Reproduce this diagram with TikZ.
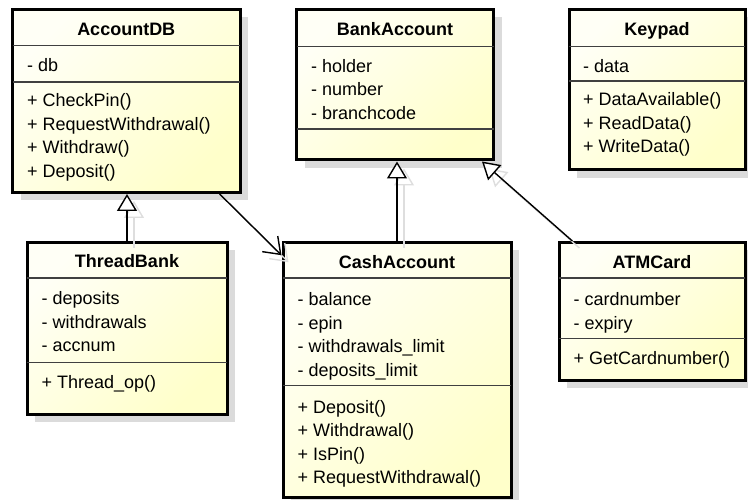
\documentclass[tikz,border=0pt]{standalone}
\usepackage{fontspec}
\setmainfont{Liberation Sans}
\usetikzlibrary{arrows.meta, shadows}

\begin{document}
\begin{tikzpicture}[x = 1pt, y = -1pt,
    classbox/.style = {draw = black, line width = 3pt,
        top color = {rgb,255:red,255;green,255;blue,246},
        bottom color = {rgb,255:red,255;green,255;blue,202}, shading angle = 45,
        drop shadow = {shadow xshift = 8pt, shadow yshift = -8pt, fill = black!14, opacity = 1}},
    classname/.style = {anchor = base, inner sep = 0pt, font = \fontsize{18}{22}\selectfont\bfseries},
    member/.style = {anchor = base west, inner sep = 0pt, font = \fontsize{18}{22}\selectfont},
    divider/.style = {draw = black!75, line width = 1.2pt, shorten < = 1.5pt, shorten > = 1.5pt},
    generalization/.style = {-{Triangle[length = 17pt, width = 20pt, fill = white]}, line width = 1.4pt},
    association/.style = {-{Straight Barb[length = 15pt, width = 22pt]}, line width = 1.4pt},
    edgeshadow/.style = {draw = black!13, transform canvas = {shift = {(7pt, -7pt)}}}]

    \useasboundingbox (0, 0) rectangle (748, 500);

% Classes
    \node[classbox, minimum width = 227.5pt, minimum height = 183pt] (accountdb) at (126.25, 101) {};
    \node[classbox, minimum width = 197pt, minimum height = 150.5pt] (bankaccount) at (395, 84.75) {};
    \node[classbox, minimum width = 176pt, minimum height = 160.5pt] (keypad) at (657, 89.75) {};
    \node[classbox, minimum width = 200pt, minimum height = 171.5pt] (threadbank) at (127, 328.25) {};
    \node[classbox, minimum width = 228pt, minimum height = 254.8pt] (cashaccount) at (397, 369.9) {};
    \node[classbox, minimum width = 186pt, minimum height = 137.5pt] (atmcard) at (652, 311.25) {};

% Compartments
    \draw[divider] (accountdb.west |- 0, 45.5) -- (accountdb.east |- 0, 45.5);
    \draw[divider] (accountdb.west |- 0, 82) -- (accountdb.east |- 0, 82);
    \draw[divider] (bankaccount.west |- 0, 46.5) -- (bankaccount.east |- 0, 46.5);
    \draw[divider] (bankaccount.west |- 0, 129) -- (bankaccount.east |- 0, 129);
    \draw[divider] (keypad.west |- 0, 46.5) -- (keypad.east |- 0, 46.5);
    \draw[divider] (keypad.west |- 0, 81) -- (keypad.east |- 0, 81);
    \draw[divider] (threadbank.west |- 0, 278) -- (threadbank.east |- 0, 278);
    \draw[divider] (threadbank.west |- 0, 362.7) -- (threadbank.east |- 0, 362.7);
    \draw[divider] (cashaccount.west |- 0, 278) -- (cashaccount.east |- 0, 278);
    \draw[divider] (cashaccount.west |- 0, 385.7) -- (cashaccount.east |- 0, 385.7);
    \draw[divider] (atmcard.west |- 0, 278) -- (atmcard.east |- 0, 278);
    \draw[divider] (atmcard.west |- 0, 338.3) -- (atmcard.east |- 0, 338.3);

% Class names
    \node[classname] (accountdb-name) at (126.25, 36) {AccountDB};
    \node[classname] (bankaccount-name) at (395, 36) {BankAccount};
    \node[classname] (keypad-name) at (657, 36) {Keypad};
    \node[classname] (threadbank-name) at (127, 268) {ThreadBank};
    \node[classname] (cashaccount-name) at (397, 269) {CashAccount};
    \node[classname] (atmcard-name) at (652, 269) {ATMCard};

% Members
    \node[member] (accountdb-a1) at (27, 72) {- db};
    \node[member] (accountdb-m1) at (27, 107) {+ CheckPin()};
    \node[member] (accountdb-m2) at (27, 130.5) {+ RequestWithdrawal()};
    \node[member] (accountdb-m3) at (27, 154) {+ Withdraw()};
    \node[member] (accountdb-m4) at (27, 177.5) {+ Deposit()};

    \node[member] (bankaccount-a1) at (311, 72.5) {- holder};
    \node[member] (bankaccount-a2) at (311, 96) {- number};
    \node[member] (bankaccount-a3) at (311, 119.5) {- branchcode};

    \node[member] (keypad-a1) at (583, 72.5) {- data};
    \node[member] (keypad-m1) at (583, 106) {+ DataAvailable()};
    \node[member] (keypad-m2) at (583, 129.5) {+ ReadData()};
    \node[member] (keypad-m3) at (583, 153) {+ WriteData()};

    \node[member] (threadbank-a1) at (41.5, 304.5) {- deposits};
    \node[member] (threadbank-a2) at (41.5, 328) {- withdrawals};
    \node[member] (threadbank-a3) at (41.5, 351.5) {- accnum};
    \node[member] (threadbank-m1) at (41.5, 388.5) {+ Thread\_op()};

    \node[member] (cashaccount-a1) at (297.5, 305.5) {- balance};
    \node[member] (cashaccount-a2) at (297.5, 329) {- epin};
    \node[member] (cashaccount-a3) at (297.5, 352.5) {- withdrawals\_limit};
    \node[member] (cashaccount-a4) at (297.5, 376) {- deposits\_limit};
    \node[member] (cashaccount-m1) at (297.5, 413) {+ Deposit()};
    \node[member] (cashaccount-m2) at (297.5, 436.5) {+ Withdrawal()};
    \node[member] (cashaccount-m3) at (297.5, 460) {+ IsPin()};
    \node[member] (cashaccount-m4) at (297.5, 483.5) {+ RequestWithdrawal()};

    \node[member] (atmcard-a1) at (573.5, 305.5) {- cardnumber};
    \node[member] (atmcard-a2) at (573.5, 329) {- expiry};
    \node[member] (atmcard-m1) at (573.5, 364) {+ GetCardnumber()};

% Relation shadows
    \draw[generalization, edgeshadow] (threadbank.north) -- (threadbank.north |- accountdb.south);
    \draw[generalization, edgeshadow] (cashaccount.north) -- (cashaccount.north |- bankaccount.south);
    \draw[generalization, edgeshadow] (atmcard) -- (bankaccount);
    \draw[association, edgeshadow] (accountdb) -- (cashaccount);

% Relations
    \draw[generalization] (threadbank.north) -- (threadbank.north |- accountdb.south);
    \draw[generalization] (cashaccount.north) -- (cashaccount.north |- bankaccount.south);
    \draw[generalization] (atmcard) -- (bankaccount);
    \draw[association] (accountdb) -- (cashaccount);

\end{tikzpicture}
\end{document}
